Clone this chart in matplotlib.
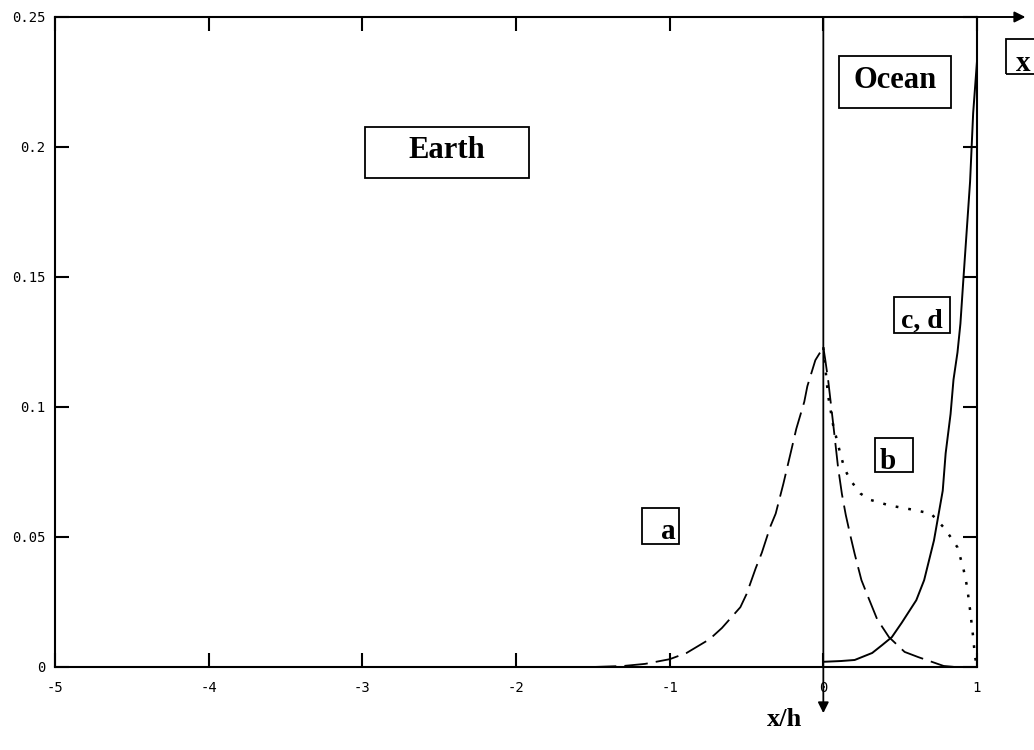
import matplotlib
matplotlib.use("Agg")
import matplotlib.pyplot as plt
from matplotlib.patches import Rectangle

# curve a (dashed): earth side rise and ocean side decay
a_x = [-1.50, -1.30, -1.16, -1.00, -0.89, -0.74, -0.66, -0.54, -0.50, -0.44,
       -0.40, -0.345, -0.31, -0.26, -0.21, -0.176, -0.124, -0.104, -0.052, 0.0,
       0.013, 0.032, 0.064, 0.096, 0.121, 0.146, 0.178, 0.204, 0.248, 0.287,
       0.350, 0.427, 0.529, 0.618, 0.783, 0.86]
a_y = [0.0, 0.0004, 0.0012, 0.003, 0.0054, 0.0107, 0.015, 0.023, 0.028, 0.038,
       0.044, 0.054, 0.059, 0.0705, 0.083, 0.0916, 0.102, 0.108, 0.118, 0.123,
       0.118, 0.110, 0.0936, 0.0767, 0.0665, 0.0585, 0.050, 0.0435, 0.0334, 0.0276,
       0.0184, 0.0115, 0.0058, 0.0038, 0.0004, 0.0]

# curve b (dotted)
b_x = [0.0, 0.013, 0.032, 0.064, 0.115, 0.140, 0.178, 0.242, 0.299, 0.433,
       0.573, 0.701, 0.783, 0.828, 0.873, 0.911, 0.936, 0.955, 0.975, 0.987, 1.0]
b_y = [0.123, 0.115, 0.104, 0.093, 0.081, 0.076, 0.0717, 0.0667, 0.0644, 0.0621,
       0.0606, 0.059, 0.0537, 0.050, 0.046, 0.038, 0.0307, 0.0219, 0.0115, 0.004, 0.0]

# curves c, d (solid)
cd_x = [0.0, 0.115, 0.204, 0.318, 0.382, 0.446, 0.510, 0.605, 0.656, 0.720,
        0.777, 0.796, 0.828, 0.847, 0.873, 0.892, 0.911, 0.955, 0.975, 1.0]
cd_y = [0.002, 0.0023, 0.0027, 0.0054, 0.0084, 0.0115, 0.017, 0.0257, 0.0334, 0.0487,
        0.0678, 0.0822, 0.0973, 0.1105, 0.121, 0.132, 0.1488, 0.1867, 0.213, 0.233]

x_ticks = [-5, -4, -3, -2, -1, 0, 1]
x_labels = ['-5', '-4', '-3', '-2', '-1', '0', '1']
y_ticks = [0, 0.05, 0.1, 0.15, 0.2, 0.25]
y_labels = ['0', '0.05', '0.1', '0.15', '0.2', '0.25']

SERIF = ['Liberation Serif', 'DejaVu Serif']
MONO = ['DejaVu Sans Mono']


def label_box(ax, x0, x1, y0, y1, text, tx, ty, size):
    """Framed text label; box and text placed in data coordinates."""
    ax.add_patch(Rectangle((x0, y0), x1 - x0, y1 - y0, fill=False,
                           ec='black', lw=1.3, clip_on=False,
                           transform=ax.transData, zorder=4))
    ax.text(tx, ty, text, ha='center', va='baseline', family=SERIF,
            fontweight='bold', fontsize=size, clip_on=False, zorder=5)


fig = plt.figure(figsize=(10.34, 7.5), dpi=100)
ax = fig.add_axes([55 / 1034, 1 - 667 / 750, 922 / 1034, 650 / 750])

ax.plot(a_x, a_y, color='black', lw=1.3, dashes=(13, 4.5))
ax.plot(b_x, b_y, color='black', lw=1.8, dashes=(1.1, 4))
ax.plot(cd_x, cd_y, color='black', lw=1.4)

ax.set_xlim(-5, 1)
ax.set_ylim(0, 0.25)
ax.set_xticks(x_ticks)
ax.set_xticklabels(x_labels, family=MONO, fontsize=10)
ax.set_yticks(y_ticks)
ax.set_yticklabels(y_labels, family=MONO, fontsize=10)
ax.tick_params(axis='x', direction='in', length=10, width=1.5, pad=10,
               top=True)
ax.tick_params(axis='y', direction='in', length=10, width=1.5, pad=7,
               right=True)
for sp in ax.spines.values():
    sp.set_linewidth(1.5)

# arrows: horizontal x axis along the top and the vertical line at x = 0
x0_frac = 5 / 6
ax.annotate('', xy=(1.0525, 1.0), xytext=(x0_frac, 1.0),
            xycoords='axes fraction',
            arrowprops=dict(arrowstyle='-|>', color='black', lw=1.4,
                            mutation_scale=16, shrinkA=0, shrinkB=0),
            annotation_clip=False)
ax.annotate('', xy=(x0_frac, -0.071), xytext=(x0_frac, 1.0),
            xycoords='axes fraction',
            arrowprops=dict(arrowstyle='-|>', color='black', lw=1.3,
                            mutation_scale=16, shrinkA=0, shrinkB=0),
            annotation_clip=False)

label_box(ax, -2.983, -1.915, 0.1881, 0.2077, 'Earth', -2.449, 0.1958, 22)
label_box(ax, 0.102, 0.831, 0.215, 0.235, 'Ocean', 0.466, 0.2227, 22)
label_box(ax, 1.188, 1.45, 0.228, 0.2415, 'x', 1.30, 0.2292, 21)
label_box(ax, 0.460, 0.824, 0.1285, 0.1423, 'c, d', 0.642, 0.1304, 20)
label_box(ax, 0.336, 0.583, 0.075, 0.0881, 'b', 0.421, 0.0762, 21)
label_box(ax, -1.180, -0.939, 0.0473, 0.0612, 'a', -1.011, 0.0492, 21)

fig.text(785 / 1034, 1 - 720 / 750, 'x/h', ha='center', va='center',
         family=SERIF, fontweight='bold', fontsize=19)

fig.savefig('out.png', dpi=100)
